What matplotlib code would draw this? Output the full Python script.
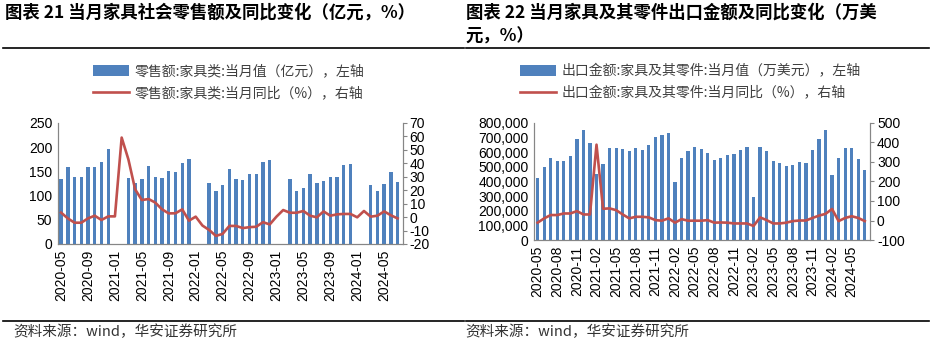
import numpy as np
import pandas as pd
import matplotlib
matplotlib.use("Agg")
import matplotlib.pyplot as plt
from matplotlib.ticker import FuncFormatter

plt.rcParams["font.family"] = ["Liberation Sans", "Noto Sans CJK SC", "DejaVu Sans"]
plt.rcParams["axes.unicode_minus"] = False

# 月份 2020-05 ~ 2024-07
months = pd.period_range("2020-05", "2024-07", freq="M").strftime("%Y-%m").tolist()

# 图表21：家具类零售额（亿元）及同比（%），1、2月无单月值
retail_val = [134, 159, 138, 139, 159, 158, 169, 196, np.nan, np.nan,
              136, 126, 134, 161, 138, 136, 150, 148, 167, 175,
              np.nan, np.nan, 126, 110, 122, 155, 134, 132, 144, 144,
              169, 173, np.nan, np.nan, 134, 109, 115, 144, 126, 130,
              138, 138, 163, 165, np.nan, np.nan, 122, 109, 124, 148, 128]
retail_yoy = [3.3, -1.0, -4.2, -4.2, -1.0, 1.0, -2.2, 0.5, 0.5, 59.0,
              42.8, 20.6, 12.6, 13.4, 10.7, 5.7, 2.7, 2.8, 5.7, -2.7,
              0.3, -6.3, -9.6, -14.0, -12.5, -6.6, -6.6, -8.2, -7.5, -7.2,
              -3.8, -5.5, 0.3, 5.2, 3.2, 3.2, 4.5, 1.0, -0.2, 4.2,
              1.0, 2.0, 2.3, 2.3, -0.2, 4.5, 0.3, 1.0, 4.2, 1.3, -1.0]

# 图表22：家具及其零件出口金额（万美元）及同比（%）
export_val = [425000, 497700, 559000, 538600, 538600, 572700, 688600, 750000, 661400, 450000,
              518000, 625000, 625000, 620500, 606800, 625000, 613600, 647700, 702300, 715900,
              729500, 395500, 559000, 606800, 634000, 620500, 595500, 545500, 556800, 579500,
              586400, 613600, 631800, 295500, 631800, 606800, 538600, 525000, 504500, 511400,
              534000, 523000, 613000, 689000, 750000, 443000, 562000, 625000, 625000, 552000, 477000]
export_yoy = [-11, 11, 28, 28, 36, 36, 48, 31, 31, 388,
              60, 62, 53, 31, 11, 19, 19, 16, 2, -1,
              11, -11, 7, -1, -1, -1, 2, -11, -10, -11,
              -15, -15, -15, -28, 16, 2, -15, -15, -11, -3,
              0, 0, 13, 25, 34, 59, -3, 13, 22, 13, -3]

BLUE = "#4F81BD"
RED = "#C0504D"
GREY = "#868686"
CJK = ["Noto Sans CJK SC", "DejaVu Sans"]

fig = plt.figure(figsize=(9.31, 3.41), dpi=100)


def dual_chart(rect, vals, yoy, tick_step, ylim1, ystep1, ylim2, ystep2, xlim, names, leg_x, comma=False):
    x = np.arange(len(months))
    ax = fig.add_axes(rect)
    bars = ax.bar(x, vals, width=0.5, color=BLUE, label=names[0])
    ax2 = ax.twinx()
    ln, = ax2.plot(x, yoy, color=RED, lw=1.9, label=names[1])

    ax.set_xlim(*xlim)
    ax.set_ylim(*ylim1)
    ax.set_yticks(np.arange(ylim1[0], ylim1[1] + 1, ystep1))
    ax2.set_ylim(*ylim2)
    ax2.set_yticks(np.arange(ylim2[0], ylim2[1] + 1, ystep2))
    if comma:
        ax.yaxis.set_major_formatter(FuncFormatter(lambda v, p: f"{int(v):,}"))
    ax.set_xticks(x[::tick_step])
    ax.set_xticklabels(months[::tick_step], rotation=90, fontsize=10)

    for a in (ax, ax2):
        a.spines["top"].set_visible(False)
        for s in ("left", "right", "bottom"):
            a.spines[s].set_color(GREY)
        a.tick_params(labelsize=10, colors="black")
    ax.tick_params(axis="x", length=0, pad=4)
    ax.tick_params(axis="y", length=0, pad=4)
    ax2.tick_params(axis="y", length=3, color=GREY, pad=2)

    ax.legend(handles=[bars, ln], loc="upper left", bbox_to_anchor=(leg_x, 0.812),
              bbox_transform=fig.transFigure, frameon=False, borderpad=0, borderaxespad=0,
              handlelength=2.6, handleheight=0.8, handletextpad=0.4, labelspacing=0.6,
              prop={"family": CJK, "size": 10}, labelcolor="#404040")
    return ax, ax2


dual_chart([0.062, 0.2845, 0.3705, 0.3555], retail_val, retail_yoy, 4,
           (0, 250), 50, (-20, 70), 10, (-0.5, 50.75),
           ["零售额:家具类:当月值（亿元），左轴", "零售额:家具类:当月同比（%），右轴"], 0.1)

dual_chart([0.5736, 0.296, 0.3609, 0.344], export_val, export_yoy, 3,
           (0, 800000), 100000, (-100, 500), 100, (-0.55, 50.8),
           ["出口金额:家具及其零件:当月值（万美元），左轴", "出口金额:家具及其零件:当月同比（%），右轴"],
           0.5585, comma=True)

# 标题
fig.text(0.005, 0.99, "图表 21 当月家具社会零售额及同比变化（亿元，%）", family=CJK,
         fontsize=12.5, fontweight="bold", va="top", ha="left")
fig.text(0.5, 0.99, "图表 22 当月家具及其零件出口金额及同比变化（万美\n元，%）", family=CJK,
         fontsize=12.5, fontweight="bold", va="top", ha="left", linespacing=1.45)

# 分隔线
for y in (1 - 48 / 341, 1 - 321 / 341):
    fig.add_artist(plt.Line2D([0.003, 0.498], [y, y], color="black", lw=1.2))
    fig.add_artist(plt.Line2D([0.5, 0.998], [y, y], color="black", lw=1.2))

# 资料来源
fig.text(0.014, 1 - 332 / 341, "资料来源：wind，华安证券研究所", family=CJK,
         fontsize=10.5, color="#333333", va="center", ha="left")
fig.text(0.5, 1 - 332 / 341, "资料来源：wind，华安证券研究所", family=CJK,
         fontsize=10.5, color="#333333", va="center", ha="left")

fig.savefig("out.png", dpi=100)
